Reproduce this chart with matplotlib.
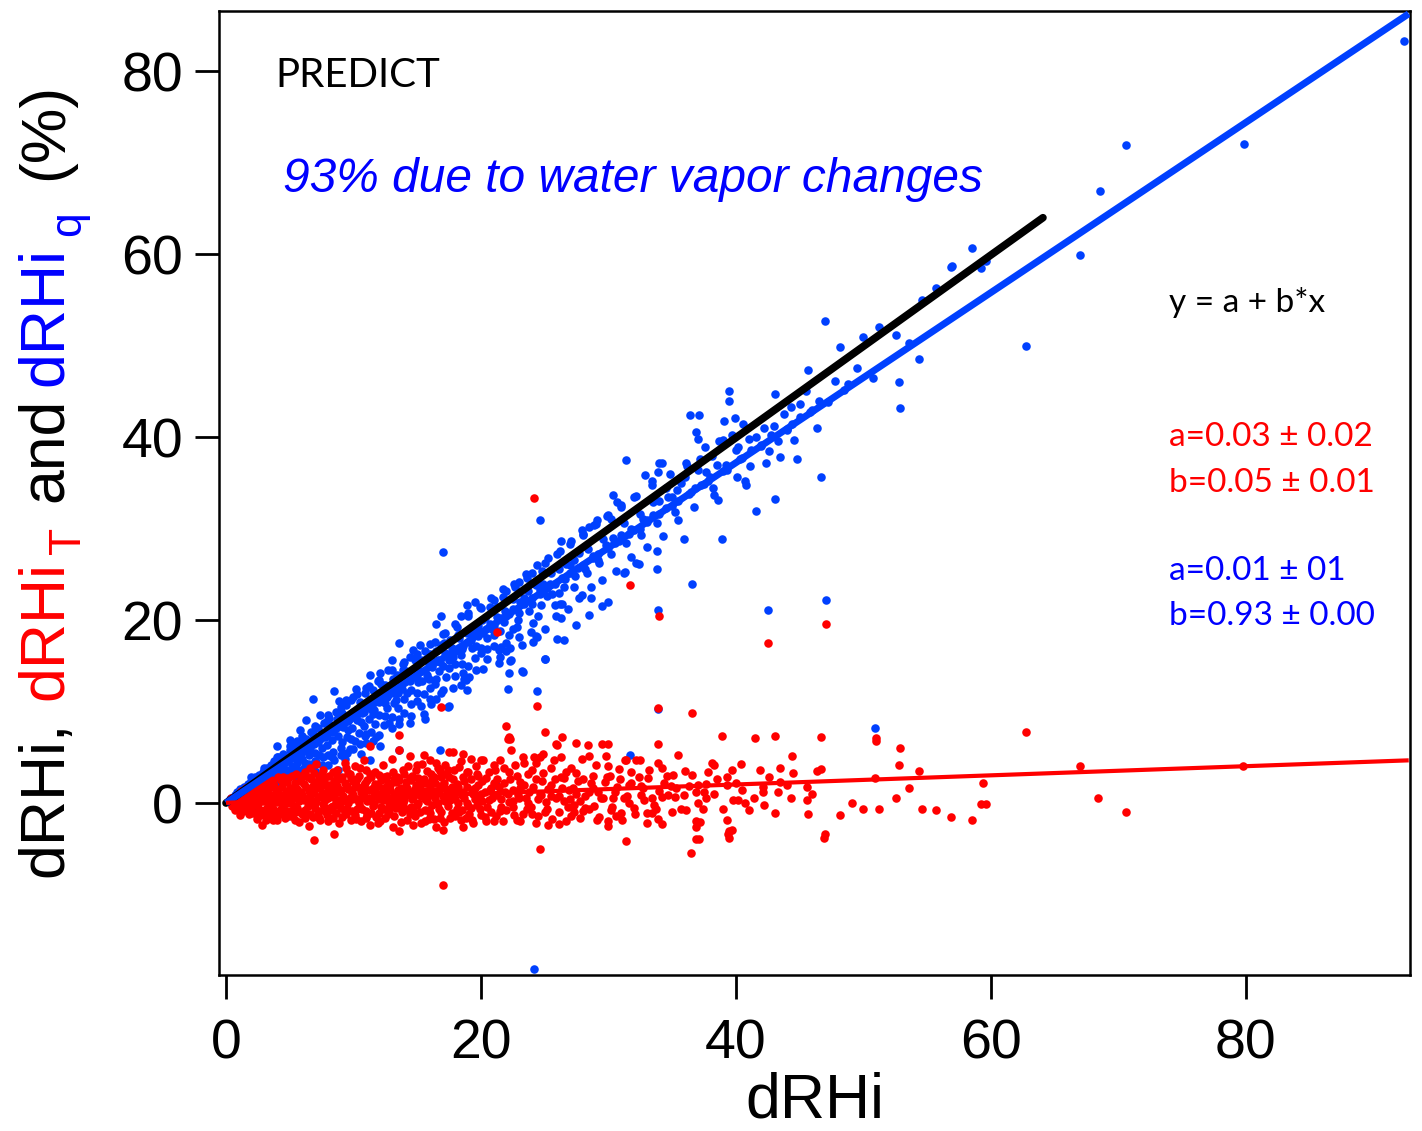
import matplotlib
matplotlib.use("Agg")
import matplotlib.pyplot as plt

plt.rcParams['font.family'] = ['Liberation Sans', 'DejaVu Sans']

# dRHi_q points (blue)
blue_pts = [
    (0.2,0.2),(0.4,0.5),(0.5,0.2),(0.7,0.9),(0.8,0.4),(0.9,1.2),(1.0,0.7),(1.1,1.5),(1.2,0.9),(1.3,0.4),
    (1.4,1.8),(1.5,1.2),(1.6,0.6),(1.7,2.1),(1.8,1.5),(1.9,0.9),(2.0,2.4),(2.1,1.8),(2.2,1.1),(2.3,2.8),
    (2.4,2.0),(2.5,1.4),(2.6,3.1),(2.7,2.4),(2.8,1.6),(2.9,3.4),(3.0,2.7),(3.0,1.9),(1.4,-0.6),(1.9,-0.8),
    (2.5,-0.6),(3.2,3.8),(3.3,3.0),(3.4,2.2),(3.5,4.2),(3.6,3.3),(3.7,2.5),(3.8,4.6),(3.9,3.7),(4.0,2.8),
    (4.0,6.2),(4.1,5.0),(4.2,4.1),(4.3,3.2),(4.4,2.2),(4.5,5.4),(4.6,4.5),(4.7,3.6),(4.8,2.6),(4.9,-1.4),
    (5.0,6.9),(5.0,5.8),(5.1,4.9),(5.2,4.0),(5.3,3.0),(5.4,6.2),(5.5,5.3),(5.6,4.4),(5.7,3.4),(5.8,8.0),
    (5.8,6.6),(5.9,5.7),(6.0,4.8),(6.1,3.8),(6.3,9.1),(6.3,7.0),(6.4,6.1),(6.5,5.2),(6.6,4.2),(6.8,11.4),
    (6.8,7.5),(6.9,6.5),(7.0,5.5),(7.0,3.5),(7.1,4.5),(7.2,8.2),(7.4,9.6),(7.4,7.0),(7.5,6.0),(7.6,5.0),
    (7.7,8.8),(7.8,7.6),(7.9,6.4),(8.0,4.2),(8.1,9.3),(8.2,8.0),(8.3,6.9),(8.4,5.6),(8.5,12.3),(8.6,10.0),
    (8.7,8.6),(8.8,3.6),(8.8,7.3),(8.9,11.2),(9.0,6.0),(9.1,9.8),(9.2,8.3),(9.3,4.8),(9.4,10.7),(9.5,7.2),
    (9.6,9.0),(9.7,5.9),(9.8,11.3),(9.9,8.2),(10.0,10.0),(10.1,6.8),(10.2,12.5),(10.3,9.1),(10.4,7.7),(10.5,11.0),
    (10.6,5.4),(10.7,9.8),(10.8,8.4),(10.9,12.0),(11.0,6.6),(11.1,10.6),(11.2,9.2),(11.3,14.0),(11.3,4.7),(11.4,7.8),
    (11.5,12.4),(11.6,10.2),(11.7,8.6),(11.8,11.4),(11.9,13.3),(12.0,9.6),(12.1,14.2),(12.1,6.2),(12.3,11.6),(12.4,8.5),
    (12.5,12.9),(12.6,10.4),(12.7,14.6),(12.8,11.9),(13.0,15.6),(13.0,9.4),(13.1,12.6),(13.2,10.9),(13.4,14.0),(13.5,12.0),
    (13.6,17.5),(13.6,9.2),(13.6,5.8),(13.8,13.1),(13.9,15.2),(14.0,11.4),(14.2,13.7),(14.4,8.7),(14.4,16.0),(14.5,12.4),
    (14.7,16.7),(14.8,13.9),(15.0,12.0),(15.1,14.6),(15.2,17.3),(15.4,13.3),(15.5,9.7),(15.6,9.2),(15.7,15.8),(15.8,14.0),
    (16.0,11.4),(16.0,16.3),(16.2,14.9),(16.4,13.0),(16.5,19.6),(16.5,11.4),(16.6,15.6),(16.8,5.8),(16.9,20.4),(16.9,17.3),
    (17.0,27.5),(17.0,15.0),(17.2,16.4),(17.3,13.8),(17.4,10.5),(17.5,10.6),(17.6,17.8),(17.8,16.0),(18.0,15.2),(18.2,18.4),
    (18.4,20.5),(18.4,12.9),(18.5,16.8),(18.6,14.2),(18.8,13.4),(18.9,21.6),(18.9,12.4),(19.0,17.6),(19.1,13.8),(19.3,18.6),
    (19.5,22.0),(19.6,17.2),(19.8,19.4),(20.0,16.4),(20.2,14.7),(20.3,20.2),(20.5,18.0),(20.7,21.4),(20.9,19.0),(21.0,17.2),
    (21.2,2.0),(21.3,20.3),(21.4,16.7),(21.5,16.0),(21.6,17.1),(21.7,22.5),(21.8,19.8),(22.0,16.6),(22.1,12.5),(22.2,14.2),
    (22.2,18.4),(22.3,15.5),(22.4,15.6),(22.5,21.2),(22.7,23.6),(22.8,19.3),(23.0,20.8),(23.2,14.4),(23.3,14.3),(23.4,22.4),
    (23.6,24.6),(23.9,18.7),(24.0,21.8),(24.1,19.7),(24.2,-18.1),(24.3,18.3),(24.4,12.2),(24.4,18.2),(24.5,20.4),(24.6,30.9),
    (24.6,23.3),(24.8,25.4),(25.0,15.7),(25.0,15.8),(25.2,22.6),(25.4,24.0),(25.8,21.7),(26.0,17.9),(26.1,25.6),(26.2,21.8),
    (26.3,20.2),(26.3,28.7),(26.4,21.8),(26.5,17.8),(26.6,24.5),(27.0,26.0),(27.3,23.6),(27.5,19.5),(27.7,27.3),(27.9,22.7),
    (27.9,29.9),(28.2,25.6),(28.5,20.6),(28.5,30.2),(28.6,22.4),(28.8,27.0),(29.1,30.9),(29.3,26.3),(29.5,21.5),(29.8,28.2),
    (30.0,22.0),(30.2,31.1),(30.4,33.7),(30.5,28.4),(30.7,32.9),(31.0,29.3),(31.3,25.3),(31.2,25.2),(31.4,37.5),(31.7,5.3),
    (31.8,30.0),(32.2,26.2),(32.4,26.1),(32.5,30.0),(32.7,31.1),(32.9,35.9),(33.0,31.0),(33.4,34.8),(33.5,31.5),(33.8,27.6),
    (33.8,25.6),(33.9,21.1),(33.9,10.3),(33.9,36.2),(34.0,33.0),(34.0,37.2),(34.2,37.2),(34.5,32.3),(34.7,33.5),(35.0,32.5),
    (35.4,34.2),(35.5,30.9),(35.9,28.9),(36.1,37.2),(36.3,33.8),(36.4,42.4),(36.6,24.0),(36.8,34.4),(36.9,40.6),(37.0,39.8),
    (37.1,42.4),(37.3,34.8),(37.6,38.9),(37.8,35.2),(38.1,38.0),(38.3,33.7),(38.6,33.1),(38.9,28.9),(39.0,39.7),(39.1,41.8),
    (39.3,36.4),(39.5,45.0),(39.5,44.0),(39.9,42.1),(40.1,35.6),(40.3,37.6),(40.7,35.2),(40.8,34.8),(41.2,38.6),(41.6,31.9),
    (42.0,39.2),(42.4,37.2),(42.5,21.1),(42.6,38.5),(43.1,44.7),(43.1,33.2),(43.5,37.8),(44.0,40.8),(44.3,43.3),(44.6,39.7),
    (44.8,37.6),(45.5,45.0),(45.7,47.3),(46.4,41.0),(46.7,35.6),(47.0,52.7),(47.1,22.2),(48.2,49.9),(48.5,45.2),(50.0,51.0),
    (50.8,46.5),(50.9,8.2),(51.2,52.1),(52.6,51.2),(52.8,46.0),(52.9,43.2),(53.6,50.3),(54.4,48.5),(54.6,55.0),(55.7,56.3),
    (56.9,58.6),(57.0,58.7),(58.5,60.7),(59.2,58.5),(59.6,59.3),(62.8,50.0),(67.0,59.9),(68.6,66.9),(70.6,71.9),(79.9,72.1),
    (92.4,83.3),
    # along the regression and in the dense band
    (0.3,0.4),(0.6,0.6),(0.9,0.8),(1.2,1.1),(1.5,1.5),(1.8,1.7),(2.1,2.1),(2.4,2.3),(2.7,2.6),(3.0,3.1),
    (3.3,3.4),(3.6,3.6),(3.9,4.2),(4.2,3.8),(4.5,4.1),(4.8,4.6),(5.1,5.4),(5.4,5.0),(5.7,5.9),(6.0,5.6),
    (6.3,6.5),(6.6,6.0),(6.9,7.2),(7.2,6.7),(7.5,7.4),(7.8,7.2),(8.1,8.6),(8.4,7.8),(8.7,9.2),(9.0,8.5),
    (9.3,9.0),(9.6,8.0),(9.9,9.6),(10.2,9.5),(10.5,10.2),(10.8,10.0),(11.1,11.0),(11.4,10.3),(11.7,11.6),(12.0,11.0),
    (12.3,12.2),(12.6,11.6),(12.9,12.4),(13.2,12.0),(13.5,13.5),(13.8,12.5),(14.1,14.4),(14.4,13.3),(14.7,14.2),(15.0,13.7),
    (15.3,15.6),(15.6,14.5),(15.9,15.2),(16.2,15.5),(16.5,16.6),(16.8,15.4),(17.1,17.5),(17.4,16.2),(17.7,17.0),(18.0,16.6),
    (18.3,18.0),(18.6,17.2),(18.9,18.6),(19.2,17.8),(19.5,19.0),(19.8,18.3),(20.1,20.0),(20.4,19.0),(20.7,19.6),(21.0,19.5),
    (21.3,21.4),(21.6,20.2),(21.9,21.0),(22.2,20.7),(22.5,22.3),(22.8,21.2),(23.1,22.0),(23.4,21.8),(23.7,23.2),(24.0,22.4),
    (24.3,23.8),(24.6,22.9),(24.9,24.0),(25.2,23.5),(25.5,25.2),(25.8,24.0),(26.1,23.0),(26.4,24.6),(26.7,26.1),(27.0,25.1),
    (27.3,26.6),(27.6,25.7),(28.0,26.0),(28.4,27.8),(28.8,26.8),(29.2,27.2),(29.6,28.9),(30.0,27.9),(30.4,29.0),(30.8,28.6),
    (31.2,30.6),(31.6,29.4),(32.0,29.8),(32.5,31.6),(33.0,30.7),(33.5,32.9),(34.0,31.6),(34.5,34.5),(35.0,33.5),(35.5,33.0),
    (36.0,35.6),(36.5,34.0),(37.0,36.4),(37.5,34.9),(38.0,35.6),(38.5,37.0),(39.0,36.3),(40.0,38.6),(40.5,37.7),(41.0,39.8),
    (42.0,39.0),(43.0,41.2),(44.0,40.9),(45.0,42.2),(46.0,43.0),
    (3.5,2.0),(4.0,2.3),(4.5,3.0),(5.0,3.3),(5.5,3.8),(6.0,3.6),(6.5,4.3),(7.0,4.6),(7.5,4.2),(8.0,5.2),
    (8.5,4.7),(9.0,5.3),(9.5,5.5),(10.0,5.9),(10.5,6.5),(11.0,7.6),(11.5,6.8),(12.0,7.4),(12.5,9.5),(13.0,8.2),
    (13.5,10.4),(14.0,9.8),(14.5,10.8),(15.0,11.2),(15.5,11.9),(16.0,12.6),(16.5,13.6),(17.0,12.4),(17.5,14.8),(18.0,13.9),
    (18.5,15.2),(19.0,15.0),(19.5,15.9),(20.0,16.9),(20.5,15.8),(21.0,18.4),(21.5,18.8),(22.0,17.5),(22.5,19.0),(23.0,18.2),
    (2.0,2.9),(3.0,3.8),(4.0,5.0),(5.0,6.2),(6.0,7.3),(7.0,8.4),(8.0,9.6),(9.0,10.5),(10.0,11.6),(11.0,12.6),
    (12.0,13.5),(13.0,14.6),(14.0,15.4),(15.0,16.3),(16.0,17.4),(17.0,18.5),(18.0,19.6),(19.0,20.4),(20.0,21.3),(21.0,22.2),
    (22.0,23.2),(23.0,24.2),(24.0,25.1),(25.0,26.3),(26.0,27.2),(27.0,28.3),(28.0,29.3),(29.0,30.5),(30.0,31.5),(31.0,32.4),
    (32.0,33.5),
    (5.2,3.6),(5.6,6.8),(6.2,4.4),(6.7,7.8),(7.3,5.3),(7.9,9.0),(8.3,5.0),(8.6,8.2),(9.1,6.7),(9.4,11.3),
    (9.8,7.0),(10.3,11.9),(10.6,8.9),(10.9,7.3),(11.2,12.8),(11.5,9.7),(11.8,7.2),(12.2,13.0),(12.5,10.9),(12.8,8.8),
    (13.1,13.6),(13.3,11.3),(13.6,8.6),(13.9,14.6),(14.2,12.0),(14.5,9.5),(14.8,15.6),(15.1,13.2),(15.3,10.6),(15.6,16.6),
    (15.9,13.6),(16.1,10.8),(16.4,17.6),(16.7,14.4),(16.9,12.0),(17.2,18.6),(17.5,15.6),(17.8,12.6),(18.1,19.2),(18.4,16.2),
    (18.7,13.6),(19.0,20.8),(19.3,16.9),(19.6,14.6),(19.9,21.4),(20.2,18.6),(20.5,16.8),(20.8,22.4),(21.1,18.9),(21.4,15.3),
    (21.7,23.4),(22.0,20.5),(22.3,17.0),(22.6,24.0),(22.9,20.0),(23.2,17.3),(23.5,25.0),(23.8,21.0),(24.1,17.6),(24.4,26.0),
    (24.7,21.6),(25.0,19.0),(25.3,26.8),(25.6,22.9),(25.9,20.4),(26.2,27.6),(26.5,23.6),(26.8,21.2),(27.1,28.6),(27.4,24.8),
    (27.7,22.4),(28.0,29.4),(28.3,25.2),(28.6,23.6),(28.9,30.4),(29.2,26.6),(29.5,24.4),(29.9,31.4),(30.2,27.2),(30.6,25.4),
    (31.0,32.6),(31.4,28.4),(31.8,26.9),(32.2,33.6),(32.6,29.3),(33.0,28.0),(33.4,35.2),(33.8,30.6),(34.3,29.2),(34.8,36.0),
    (35.2,31.8),(35.7,35.0),(36.2,36.8),(36.7,32.4),(37.2,37.6),(37.7,36.2),(38.2,34.5),(38.7,39.6),(39.2,37.0),(39.7,40.2),
    (40.2,38.9),(40.6,41.4),(41.1,36.8),(41.6,40.0),(42.2,41.0),(42.8,40.2),(43.3,39.6),(43.8,42.5),(44.4,41.4),(45.0,43.6),
    (45.8,42.8),(46.5,44.0),(47.2,43.9),(47.8,46.2),(48.8,45.8),(49.5,47.6),
]

# dRHi_T points (red)
red_pts = [
    (0.3,0.1),(0.5,-0.3),(0.6,0.4),(0.8,-0.6),(0.9,0.2),(1.0,0.8),(1.1,-1.3),(1.2,-0.2),(1.3,0.5),(1.4,1.1),
    (1.5,-0.8),(1.6,0.1),(1.7,0.7),(1.8,1.4),(1.9,-0.4),(2.0,0.3),(2.1,-1.1),(2.2,1.0),(2.3,1.7),(2.4,-1.7),
    (2.4,0.0),(2.5,0.6),(2.6,-0.7),(2.7,1.3),(2.8,-2.4),(2.8,2.0),(2.9,0.2),(3.0,-1.2),(3.1,0.9),(3.2,2.4),
    (3.3,-0.3),(3.4,1.6),(3.5,-1.6),(3.6,0.5),(3.7,-1.9),(3.7,2.2),(3.8,-0.8),(3.9,1.2),(4.0,0.1),(4.1,2.8),
    (4.2,-1.2),(4.3,0.8),(4.4,1.8),(4.5,2.9),(4.5,-0.4),(4.6,-1.6),(4.7,0.4),(4.8,2.3),(4.9,1.3),(5.0,-0.9),
    (5.1,0.0),(5.2,3.0),(5.3,1.8),(5.4,-1.8),(5.5,3.2),(5.5,0.7),(5.6,-0.5),(5.7,-2.1),(5.8,2.4),(5.9,1.2),
    (6.0,-1.2),(6.1,0.3),(6.2,3.4),(6.3,1.8),(6.4,-0.3),(6.5,-2.5),(6.6,3.8),(6.6,0.9),(6.7,2.6),(6.8,-1.5),
    (6.9,-4.0),(7.0,1.5),(7.1,4.3),(7.1,0.1),(7.2,-0.9),(7.3,2.9),(7.4,-1.9),(7.5,1.0),(7.6,3.6),(7.7,-0.4),
    (7.8,2.0),(7.9,-1.3),(8.0,0.6),(8.1,3.0),(8.2,1.6),(8.3,-0.8),(8.4,-1.6),(8.5,-3.4),(8.5,2.4),(8.6,0.2),
    (8.7,3.6),(8.8,1.2),(8.9,-2.2),(9.0,-0.5),(9.1,2.8),(9.2,0.8),(9.3,4.4),(9.4,-1.2),(9.5,1.9),(9.6,0.0),
    (9.7,3.2),(9.8,-1.8),(9.9,1.1),(10.0,2.4),(10.1,4.0),(10.1,-1.3),(10.2,0.4),(10.3,-0.6),(10.4,3.0),(10.5,1.6),
    (10.6,-2.0),(10.7,0.9),(10.8,4.7),(10.9,2.2),(11.0,3.6),(11.0,-0.9),(11.1,0.2),(11.2,1.4),(11.3,6.2),(11.3,-2.4),
    (11.4,2.8),(11.5,-0.3),(11.6,0.8),(11.7,3.4),(11.8,-1.5),(11.9,1.9),(12.0,0.4),(12.1,-2.0),(12.2,2.5),(12.3,4.2),
    (12.4,-0.7),(12.5,1.2),(12.6,3.0),(12.7,-1.2),(12.8,0.0),(12.9,2.0),(13.0,4.8),(13.1,-2.6),(13.2,1.0),(13.3,-0.5),
    (13.4,2.9),(13.5,0.6),(13.6,7.4),(13.6,5.8),(13.6,-3.1),(13.7,1.7),(13.8,-1.0),(13.9,3.6),(14.0,0.3),(14.1,2.3),
    (14.2,-1.8),(14.4,5.1),(14.4,1.2),(14.5,-0.4),(14.6,3.0),(14.7,0.7),(14.8,-1.4),(14.9,2.0),(15.0,4.2),(15.1,0.0),
    (15.2,1.5),(15.3,-2.2),(15.5,5.2),(15.5,2.6),(15.6,-0.8),(15.7,0.9),(15.8,3.5),(15.9,-1.7),(16.0,4.7),(16.0,1.8),
    (16.2,-0.2),(16.3,2.9),(16.4,0.6),(16.5,-2.6),(16.6,3.8),(16.7,1.3),(16.8,3.5),(16.9,10.5),(16.9,-1.0),(17.0,-3.0),
    (17.0,-9.0),(17.1,2.2),(17.2,0.2),(17.3,3.2),(17.5,5.6),(17.5,1.0),(17.6,-1.6),(17.8,5.6),(17.8,2.6),(17.9,0.5),
    (18.1,-0.6),(18.2,1.8),(18.3,3.9),(18.4,-1.9),(18.5,0.9),(18.6,5.4),(18.6,-2.6),(18.7,2.4),(18.9,0.0),(19.0,3.4),
    (19.1,-1.2),(19.2,4.8),(19.3,1.4),(19.4,-2.2),(19.5,0.4),(19.7,3.2),(19.8,2.0),(19.9,-0.7),(20.0,4.7),(20.0,1.0),
    (20.2,4.7),(20.3,-1.5),(20.4,2.7),(20.6,0.3),(20.8,1.6),(21.0,-2.0),(21.1,3.6),(21.3,18.7),(21.3,0.9),(21.5,4.7),
    (21.5,-0.9),(21.7,-2.0),(21.8,2.2),(22.0,8.4),(22.1,7.0),(22.2,7.2),(22.2,0.1),(22.3,7.0),(22.4,5.8),(22.5,1.4),
    (22.6,-1.3),(22.8,3.0),(23.0,0.6),(23.1,-2.0),(23.3,5.0),(23.4,2.0),(23.6,-0.6),(23.8,1.2),(24.0,3.6),(24.2,33.4),
    (24.2,5.0),(24.3,-2.2),(24.4,10.6),(24.5,0.4),(24.6,5.0),(24.6,-5.0),(24.8,2.4),(25.0,7.8),(25.0,-1.0),(25.3,1.5),
    (25.5,3.8),(25.6,-1.7),(25.9,6.5),(26.0,6.4),(26.1,0.8),(26.3,5.0),(26.4,7.2),(26.5,2.7),(26.8,-0.4),(27.1,-1.4),
    (27.2,1.7),(27.5,6.6),(27.5,3.3),(27.8,0.2),(28.0,-0.9),(28.4,6.4),(28.5,5.1),(28.6,2.2),(28.9,-0.3),(29.2,1.2),
    (29.5,6.5),(29.8,5.1),(30.0,-2.0),(30.0,-2.5),(30.0,6.5),(30.1,3.0),(30.4,0.5),(30.7,1.8),(31.0,-1.1),(31.3,4.7),
    (31.4,-4.2),(31.4,4.7),(31.6,0.0),(31.6,2.0),(31.7,23.8),(31.8,2.2),(32.2,4.7),(32.5,4.7),(32.6,0.9),(32.6,1.9),
    (33.0,-2.2),(33.0,-1.1),(33.4,-1.1),(33.4,0.5),(33.9,6.5),(33.9,10.4),(33.9,4.4),(33.9,-1.7),(34.0,20.4),(34.2,3.8),
    (34.2,0.7),(34.2,-2.3),(34.7,0.9),(34.9,1.9),(35.1,3.1),(35.2,0.7),(35.5,5.3),(35.9,0.9),(36.0,3.5),(36.1,-0.8),
    (36.5,-5.5),(36.6,9.9),(36.6,3.1),(36.9,1.2),(36.9,-2.6),(36.9,-3.9),(36.9,-2.0),(37.0,0.0),(37.0,2.0),(37.1,-3.9),
    (37.2,-2.1),(37.4,-0.6),(37.7,0.5),(37.7,2.1),(37.8,3.4),(38.1,4.4),(38.3,4.2),(38.3,1.0),(38.9,7.3),(39.0,-0.6),
    (39.3,-1.9),(39.3,2.8),(39.3,2.0),(39.4,-3.4),(39.5,-3.8),(39.5,-3.1),(39.7,3.6),(39.7,-3.0),(39.8,0.3),(40.0,2.2),
    (40.2,0.3),(40.4,4.3),(40.7,0.0),(41.4,0.5),(41.5,7.1),(41.9,3.6),(42.1,1.2),(42.1,1.8),(42.2,-0.2),(42.5,17.5),
    (42.6,2.8),(43.1,-1.1),(43.1,7.3),(43.3,1.2),(43.5,3.8),(43.5,2.3),(44.3,0.5),(44.4,5.1),(44.5,3.3),(45.6,0.3),
    (45.6,1.8),(45.7,-1.2),(46.4,3.5),(46.7,7.2),(46.7,3.7),(46.9,-3.8),(47.0,-3.4),(47.1,19.6),(48.2,-1.3),(49.1,0.0),
    (50.0,-0.7),(50.9,2.7),(51.0,7.1),(51.0,6.8),(51.2,-0.7),(52.6,0.5),(52.8,4.2),(52.9,6.0),(53.6,1.7),(54.4,3.5),
    (54.6,-0.6),(55.7,-0.8),(56.9,-1.5),(58.5,-1.8),(59.2,-0.1),(59.4,2.2),(59.6,-0.1),(62.8,7.8),(67.0,4.0),(68.4,0.5),
    (70.6,-1.0),(79.8,4.1),
    # the dense cloud near the origin
    (0.4,0.6),(0.6,-0.1),(0.7,0.3),(1.0,-0.5),(1.1,0.4),(1.2,1.3),(1.3,-0.9),(1.5,0.5),(1.6,1.6),(1.7,-0.3),
    (1.8,0.2),(1.9,1.1),(2.0,-0.8),(2.1,0.6),(2.2,-0.2),(2.3,0.9),(2.5,1.8),(2.6,0.1),(2.7,-1.3),(2.8,0.9),
    (3.0,0.4),(3.1,-0.6),(3.2,1.5),(3.3,0.6),(3.4,-1.0),(3.5,2.5),(3.6,-0.2),(3.8,1.9),(3.9,0.4),(4.0,-1.8),
    (4.1,1.4),(4.2,0.3),(4.3,-0.7),(4.4,2.4),(4.6,1.0),(4.7,-0.9),(4.8,0.0),(4.9,2.7),(5.0,0.6),(5.1,-1.4),
    (5.2,1.2),(5.3,-0.3),(5.4,2.2),(5.6,1.5),(5.7,0.2),(5.8,-1.0),(5.9,3.0),(6.0,0.9),(6.1,2.1),(6.2,-0.8),
    (6.3,0.4),(6.4,2.8),(6.5,1.3),(6.6,-1.2),(6.7,0.0),(6.8,1.9),(6.9,3.3),(7.0,-0.5),(7.1,2.3),(7.2,0.7),
    (7.3,-1.6),(7.4,1.6),(7.5,3.2),(7.6,-0.1),(7.7,2.5),(7.8,0.3),(7.9,1.2),(8.0,-2.0),(8.1,2.0),(8.2,-0.4),
    (8.3,1.0),(8.4,3.4),(8.5,0.8),(8.6,-1.1),(8.7,1.9),(8.8,-0.2),(8.9,2.6),(9.0,1.4),(9.1,-1.5),(9.2,0.2),
    (9.3,2.2),(9.4,3.8),(9.5,-0.6),(9.6,1.5),(9.7,0.5),(9.8,2.7),(9.9,-0.9),(10.0,0.9),(10.1,1.8),(10.2,-1.7),
    (10.3,2.6),(10.4,0.0),(10.5,3.8),(10.6,1.2),(10.7,-0.7),(10.8,2.0),(10.9,0.5),(11.0,-1.6),(11.1,2.5),(11.2,0.6),
    (11.3,3.2),(11.4,-1.1),(11.5,1.6),(11.6,-0.1),(11.7,2.1),(11.8,0.9),(11.9,-2.2),(12.0,3.1),(12.1,1.0),(12.2,-0.4),
    (12.3,1.6),(12.4,2.8),(12.5,-1.6),(12.6,0.7),(12.7,2.2),(12.8,-0.9),(12.9,1.4),(13.0,0.2),(13.1,3.4),(13.2,-1.4),
    (13.3,2.3),(13.4,0.9),(13.5,-0.2),(13.6,2.5),(13.7,-2.1),(13.8,1.2),(13.9,0.0),(14.0,3.2),(14.1,-0.7),(14.2,1.7),
    (14.3,4.0),(14.4,-1.2),(14.5,2.5),(14.6,0.4),(14.7,-2.4),(14.8,1.5),(14.9,3.6),(15.0,-0.2),(15.1,2.7),(15.2,-1.0),
    (15.3,0.8),(15.4,4.3),(15.5,1.3),(15.6,-2.0),(15.7,2.2),(15.8,0.2),(15.9,1.2),(16.0,-1.1),(16.1,3.2),(16.2,0.9),
    (16.3,-1.7),(16.4,2.2),(16.5,4.4),(16.6,0.0),(16.7,-0.6),(16.8,1.9),(16.9,2.8),(17.0,0.8),(17.1,-2.1),(17.2,4.2),
    (17.3,1.5),(17.4,-0.3),(17.5,2.8),(17.6,0.3),(17.7,-1.1),(17.8,1.3),(17.9,3.6),(18.0,-1.4),(18.1,2.1),(18.2,0.0),
    (18.3,1.2),(18.4,4.6),(18.5,-0.8),(18.6,2.9),(18.7,0.5),(18.8,-1.6),(18.9,1.8),(19.0,-0.3),(19.2,2.6),(19.3,-1.8),
    (19.4,1.0),(19.6,4.0),(19.7,-0.2),(19.8,0.8),(20.0,-1.3),(20.1,2.4),(20.3,1.2),(20.5,-0.4),(20.6,3.4),(20.8,-1.0),
    (20.9,0.6),(21.0,2.2),(21.2,-1.4),(21.4,1.8),(21.6,0.4),(21.8,3.8),(22.0,-0.8),(22.1,1.0),
    (22.3,2.6),(22.5,-0.4),(22.7,4.2),(22.9,0.9),(23.1,2.3),(23.3,-1.2),(23.5,0.5),(23.7,3.2),(23.9,-0.4),(24.1,1.8),
    (24.3,4.4),(24.5,-1.4),(24.7,0.9),(24.9,3.3),(25.1,0.1),(25.3,-2.4),(25.5,2.0),(25.7,4.7),(25.9,0.6),(26.1,-1.0),
    (26.3,2.9),(26.5,0.2),(26.7,-2.0),(26.9,1.4),(27.1,3.8),(27.3,-0.2),(27.5,1.0),(27.8,-1.6),(28.0,2.6),(28.2,0.8),
    (28.5,-0.7),(28.8,1.7),(29.0,4.2),(29.3,-1.5),(29.6,0.6),(29.9,2.8),(30.2,-0.8),(30.5,1.2),(30.8,3.7),(31.1,-1.9),
    (31.5,0.8),(32.0,-0.5),(32.4,2.8),(32.8,0.3),(33.2,3.6),(33.7,-0.6),(34.4,2.2),(35.0,-1.0),
    (0.7,-0.8),(1.4,-0.3),(1.8,-1.2),(2.2,2.0),(2.6,1.1),(3.1,-1.9),(3.5,0.9),(3.9,-1.3),(4.3,2.5),(4.6,0.2),
    (5.0,1.6),(5.3,-1.1),(5.7,1.0),(6.0,2.8),(6.2,-1.6),(6.5,0.5),(6.9,1.1),(7.2,-1.2),(7.5,2.1),(7.8,-0.9),
    (8.1,1.3),(8.4,-0.3),(8.7,2.9),(9.0,0.3),(9.3,-1.0),(9.6,3.3),(9.9,0.4),(10.2,2.0),(10.5,-0.4),(10.8,1.2),
    (11.1,-1.3),(11.4,0.4),(11.7,1.4),(12.0,-1.1),(12.3,0.3),(12.6,1.9),(12.9,-0.2),(13.2,2.6),(13.5,1.4),(13.8,-0.6),
    (14.1,0.9),(14.4,2.7),(14.7,-0.8),(15.0,1.0),(15.3,2.2),(15.6,0.4),(15.9,-0.8),(16.2,2.5),(16.5,1.3),(16.8,-1.6),
    (17.1,0.4),(17.4,3.6),(17.7,1.8),(18.0,0.4),(18.3,-1.0),(18.6,1.2),(18.9,3.4),(19.2,-0.5),(19.5,1.6),(19.8,3.0),
    (20.1,0.2),(20.4,-2.0),(20.7,1.4),(21.0,4.2),(21.3,2.6),(21.6,-0.4),(21.9,1.2),(22.2,3.4),(22.5,0.2),(22.8,-1.8),
    (23.1,1.6),(23.4,4.4),(23.7,0.0),(24.0,-1.2),(24.3,2.6),(24.6,1.0),(24.9,5.4),(25.2,-0.6),(25.5,0.8),(25.8,2.6),
    (26.1,-2.3),(26.4,1.6),(26.7,3.4),(27.0,0.4),(27.3,-1.0),(27.6,2.4),(27.9,4.8),(28.2,-0.5),(28.5,1.2),(28.8,3.0),
    (29.1,-1.8),(29.4,0.6),(29.7,2.3),(30.0,4.0),(30.3,-0.4),(30.6,-1.4),(30.9,2.6),(31.2,0.6),(31.8,3.4),(32.1,-1.2),
    (32.7,1.6),(33.1,2.7),(33.6,-0.2),(34.0,1.3),(34.6,3.0),(35.3,1.6),(35.7,-0.6),(36.3,1.9),(37.5,1.2),(38.5,2.6),
    (40.5,1.4),(41.0,-0.8),(44.0,2.0),(46.0,1.0),
]

# fitted lines: 1:1 line and the two regressions (y = a + b*x)
one_x, one_y = [0, 64.1], [0, 64.0]
fit_q_x, fit_q_y = [0, 92.8], [0.01, 86.3]
fit_T_x, fit_T_y = [0, 92.8], [0.03, 4.67]

blue_pt = '#0040ff'
blue_txt = '#0000ff'
red = '#ff0000'

W, H = 1422, 1131
fig = plt.figure(figsize=(W / 100, H / 100), dpi=100)
ax = fig.add_axes([219 / W, 1 - 975 / H, (1410 - 219) / W, (975 - 11) / H])

bx, by = zip(*blue_pts)
rx, ry = zip(*red_pts)
ax.scatter(bx, by, s=38, color=blue_pt, linewidths=0, zorder=2)
ax.scatter(rx, ry, s=38, color=red, linewidths=0, zorder=3)
ax.plot(one_x, one_y, color='black', lw=5.5, solid_capstyle='round', zorder=4)
ax.plot(fit_q_x, fit_q_y, color=blue_pt, lw=5, solid_capstyle='butt', zorder=5)
ax.plot(fit_T_x, fit_T_y, color=red, lw=3, solid_capstyle='butt', zorder=6)

ax.set_xlim(-0.55, 92.9)
ax.set_ylim(-18.8, 86.6)
ax.set_xticks([0, 20, 40, 60, 80])
ax.set_yticks([0, 20, 40, 60, 80])
ax.tick_params(axis='both', labelsize=40, length=17, width=2, direction='out')
ax.tick_params(axis='x', pad=14)
ax.tick_params(axis='y', pad=9)
for sp in ax.spines.values():
    sp.set_linewidth(1.8)
ax.set_xlabel('dRHi', fontsize=45, labelpad=1)

# annotations
ax.text(3.84, 78.3, 'PREDICT', fontsize=29, family='Lato', va='baseline')
ax.text(4.47, 66.8, '93% due to water vapor changes', fontsize=34.5, style='italic',
        color=blue_txt, va='baseline')
ax.text(74.0, 53.7, 'y = a + b*x', fontsize=24, family='Lato', va='baseline')
ax.text(74.0, 39.0, 'a=0.03 \u00b1 0.02', fontsize=24, family='Lato', color=red, va='baseline')
ax.text(74.0, 34.0, 'b=0.05 \u00b1 0.01', fontsize=24, family='Lato', color=red, va='baseline')
ax.text(74.0, 24.4, 'a=0.01 \u00b1 01', fontsize=24, family='Lato', color=blue_txt, va='baseline')
ax.text(74.0, 19.5, 'b=0.93 \u00b1 0.00', fontsize=24, family='Lato', color=blue_txt, va='baseline')

# multi-coloured y label, built piece by piece (pixel positions from the reference)
ylab = [
    ('dRHi,', 'black', 877, 62, 45),
    ('dRHi', red, 700, 62, 45),
    ('T', red, 554, 80, 32),
    ('and', 'black', 502, 62, 45),
    ('dRHi', blue_txt, 386, 62, 45),
    ('q', blue_txt, 236, 80, 32),
    ('(%)', 'black', 180, 62, 45),
]
for s, c, ystart, xbase, fs in ylab:
    fig.text(xbase / W, 1 - ystart / H, s, color=c, fontsize=fs, rotation=90,
             rotation_mode='anchor', ha='left', va='baseline')

fig.savefig('out.png', dpi=100)
